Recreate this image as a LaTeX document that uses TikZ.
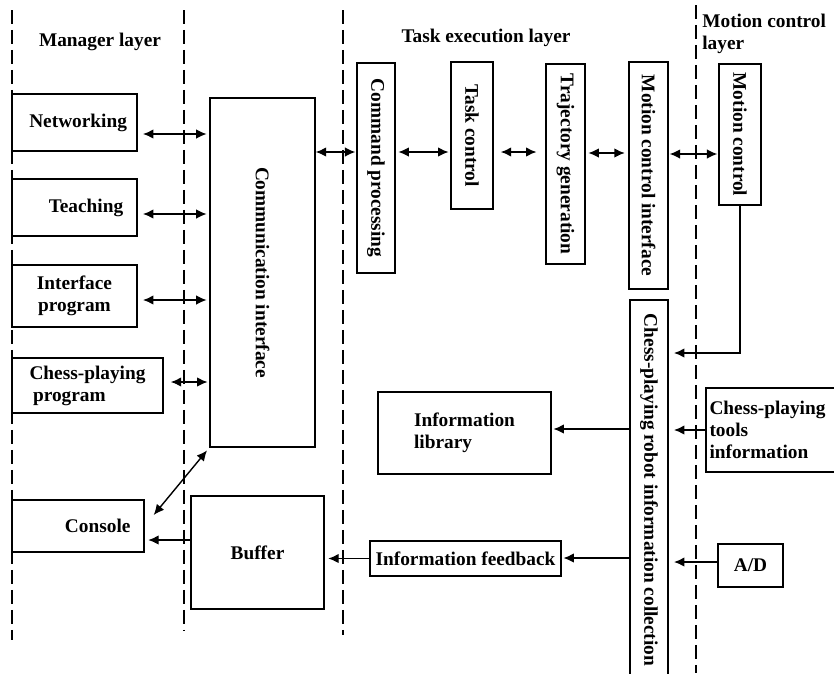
\documentclass[tikz,border=0pt]{standalone}
\usepackage{fontspec}
\usepackage{graphicx}
\setmainfont{Liberation Serif}
\usetikzlibrary{arrows.meta}

\begin{document}
\begin{tikzpicture}[
    x=0.02cm, y=-0.02cm,
    box/.style={draw, line width=0.8pt, inner sep=2pt,
                font=\bfseries\fontsize{11}{12.5}\selectfont},
    title/.style={inner sep=0pt, align=left,
                  font=\bfseries\fontsize{11}{12.5}\selectfont},
    layer/.style={line width=0.6pt, dash pattern=on 0.28cm off 0.12cm},
    both/.style={{Latex[length=2.1mm,width=1.9mm]}-{Latex[length=2.1mm,width=1.9mm]},
                 line width=0.8pt},
    one/.style={-{Latex[length=2.1mm,width=1.9mm]}, line width=0.8pt},
  ]
    \clip (0,0) rectangle (834,673);

    \draw[layer] (12,10)  -- (12,640);
    \draw[layer] (184,10) -- (184,630);
    \draw[layer] (343,10) -- (343,635);
    \draw[layer] (696,5)  -- (696,673);

    \node[title] (mgr)  at (100,42) {Manager layer};
    \node[title] (exe)  at (486,38) {Task execution layer};
    \node[title, anchor=west] (mot) at (702,34) {Motion control\\layer};

    \node[box, minimum width=2.5cm, minimum height=1.14cm,
          text width=2.1cm, align=right] (net) at (74.5,122.5) {Networking};
    \node[box, minimum width=2.5cm, minimum height=1.14cm,
          text width=1.95cm, align=right] (teach) at (74.5,207.5) {Teaching};
    \node[box, minimum width=2.5cm, minimum height=1.24cm,
          align=center] (ifprog) at (74.5,296) {Interface\\program};
    \node[box, minimum width=3.02cm, minimum height=1.1cm,
          align=left] (chessprog) at (87.5,385.5) {Chess-playing\\\hspace{2pt}program};
    \node[box, minimum width=2.64cm, minimum height=1.04cm,
          text width=2.1cm, align=right] (console) at (78,526) {Console};

    \node[box, minimum width=2.1cm, minimum height=6.98cm] (comm)
      at (262.5,272.5) {\rotatebox{-90}{Communication interface}};
    \node[box, minimum width=2.66cm, minimum height=2.26cm] (buffer)
      at (257.5,552.5) {Buffer};

    \node[box, minimum width=0.76cm, minimum height=4.2cm] (cmd)
      at (376,168) {\rotatebox{-90}{Command processing}};
    \node[box, minimum width=0.84cm, minimum height=2.94cm] (task)
      at (472,135.5) {\rotatebox{-90}{Task control}};
    \node[box, minimum width=0.78cm, minimum height=4.0cm] (traj)
      at (565.5,164) {\rotatebox{-90}{Trajectory generation}};
    \node[box, minimum width=0.78cm, minimum height=4.54cm] (mci)
      at (648.5,175.5) {\rotatebox{-90}{Motion control interface}};
    \node[box, minimum width=0.84cm, minimum height=2.82cm] (mc)
      at (740,134.5) {\rotatebox{-90}{Motion control}};
    \node[box, minimum width=0.76cm, minimum height=7.6cm] (coll)
      at (649,490) {\rotatebox{-90}{Chess-playing robot information collection}};

    \node[box, minimum width=3.46cm, minimum height=1.64cm,
          align=left] (infolib) at (464.5,433) {Information\\library};
    \node[box, minimum width=3.82cm, minimum height=0.7cm,
          inner xsep=1pt] (feedback) at (465.5,558.5) {Information feedback};
    \node[box, minimum width=2.78cm, minimum height=1.68cm,
          text width=2.64cm, align=left] (tools) at (775.5,430)
      {Chess-playing\\tools\\information};
    \node[box, minimum width=1.3cm, minimum height=0.86cm] (ad)
      at (750.5,565.5) {A/D};

    \draw[both, shorten <=3pt, shorten >=1.5pt] (net.east |- 0,134) -- (comm.west |- 0,134);
    \draw[both, shorten <=3pt, shorten >=1.5pt] (teach.east |- 0,214) -- (comm.west |- 0,214);
    \draw[both, shorten <=3pt, shorten >=1.5pt] (ifprog.east |- 0,300) -- (comm.west |- 0,300);
    \draw[both, shorten <=4pt, shorten >=1pt] (chessprog.east |- 0,382) -- (comm.west |- 0,382);
    \draw[both, shorten >=2pt] ([shift={(9,-11)}]console.east) -- (comm.south west);
    \draw[both, shorten >=0.5pt] (comm.east |- 0,152) -- (cmd.west |- 0,152);
    \draw[both, shorten <=1.5pt, shorten >=1pt] (cmd.east |- 0,152) -- (task.west |- 0,152);
    \draw[both, shorten <=4pt, shorten >=5pt] (task.east |- 0,152) -- (traj.west |- 0,152);
    \draw[both, shorten <=1.5pt, shorten >=2pt] (traj.east |- 0,153) -- (mci.west |- 0,153);
    \draw[both, shorten <=0.5pt, shorten >=0.5pt] (mci.east |- 0,154) -- (mc.west |- 0,154);

    \draw[one, shorten >=3pt] (mc.south) |- (coll.east |- 0,353);
    \draw[one, shorten >=1pt] (coll.west |- 0,429) -- (infolib.east |- 0,429);
    \draw[one, shorten >=1pt] (coll.west |- 0,558) -- (feedback.east |- 0,558);
    \draw[one, shorten >=2pt] (feedback.west) -- (buffer.east |- feedback.west);
    \draw[one, shorten >=2pt] (buffer.west |- 0,540) -- (console.east |- 0,540);
    \draw[one, shorten >=3pt] (tools.west |- 0,430) -- (coll.east |- 0,430);
    \draw[one, shorten >=3pt] (ad.west |- 0,562) -- (coll.east |- 0,562);
  \end{tikzpicture}
\end{document}
